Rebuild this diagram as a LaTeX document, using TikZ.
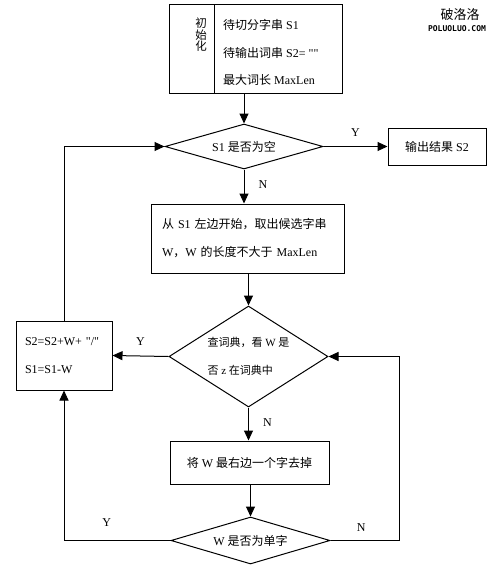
\documentclass[tikz,border=0pt]{standalone}
\usepackage{fontspec}
\setmainfont{Liberation Serif}
\newfontfamily\rawserif{Liberation Serif}[Ligatures=TeXOff]
\newfontfamily\cjk{Noto Sans CJK SC}
\newfontfamily\mono{DejaVu Sans Mono}
\usetikzlibrary{arrows.meta,shapes.geometric}
\newcommand{\zh}[1]{{\cjk #1}}
\newcommand{\dq}{{\rawserif\char"22}}
\begin{document}
\begin{tikzpicture}[x=1pt,y=-1pt,
	font=\fontsize{12}{14}\selectfont,
	box/.style={draw, line width=1pt, inner sep=0pt, align=left},
	dia/.style={draw, diamond, line width=1pt, inner sep=0pt, align=left},
	arr/.style={line width=1pt, -{Triangle[length=10pt,width=9pt]}},
	lab/.style={inner sep=0pt}]
	\useasboundingbox (0,0) rectangle (503,568);
	\node[box, minimum width=45, minimum height=89] (initL) at (191.5,48.5) {};
	\node[box, minimum width=128, minimum height=89] (initR) at (278,48.5) {};
	\node[inner sep=0pt, align=left, anchor=west] (initText) at (223,52.5) {\zh{待切分字串} S1\\[13.5pt]\zh{待输出词串} S2= \dq\dq\\[13.5pt]\zh{最大词长} MaxLen};
	\node[inner sep=0pt, align=center, font=\cjk\fontsize{11.5}{11.5}\selectfont, anchor=north] (initT) at (201,18) {初\\始\\化};
	\node[dia, aspect=3.5, minimum width=158, minimum height=45, align=center] (empty) at (244,146.5) {S1 \zh{是否为空}};
	\node[box, minimum width=98, minimum height=37, align=center] (out) at (437,146.5) {\zh{输出结果} S2};
	\node[box, minimum width=193, minimum height=69, text width=171] (take) at (247.5,238.5) {\zh{从} S1 \zh{左边开始，取出候选字串}\\[14pt]W\zh{，}W \zh{的长度不大于} MaxLen};
	\node[dia, aspect=1.6, minimum width=159, minimum height=101, font=\fontsize{11}{13}\selectfont] (look) at (248.5,356.5) {\zh{查词典，看} W \zh{是}\\[15pt]\zh{否} z \zh{在词典中}};
	\node[box, minimum width=96, minimum height=69, text width=78] (upd) at (64,355.5) {S2=S2+W+ \dq/\dq\\[14pt]S1=S1-W};
	\node[box, minimum width=159, minimum height=43, align=center] (cut) at (249.5,462.5) {\zh{将} W \zh{最右边一个字去掉}};
	\node[dia, aspect=3.5, minimum width=159, minimum height=47, align=center] (single) at (250.5,540.5) {W \zh{是否为单字}};
	\coordinate (rgt) at (399,540.5);
	\draw[arr] (initR.south -| empty.north) -- (empty.north);
	\draw[arr] (empty.east) -- (out.west) node[lab, pos=0.5, above=10pt] (yout) {Y};
	\draw[arr] (empty.south) -- (empty.south |- take.north) node[lab, pos=0.45, right=14pt] (ntake) {N};
	\draw[arr] (take.south -| look.north) -- (look.north);
	\draw[arr] (look.west) -- (upd.east) node[lab, pos=0.5, above=10pt] (yupd) {Y};
	\draw[arr] (look.south) -- (look.south |- cut.north) node[lab, pos=0.45, right=14pt] (ncut) {N};
	\draw[arr] (cut.south -| single.north) -- (single.north);
	\draw[arr] (single.west) -| (upd.south) node[lab, pos=0.3, above=14pt] (ysingle) {Y};
	\draw[arr] (single.east) -- (rgt) node[lab, pos=0.45, above=9pt] (nsingle) {N} |- (look.east);
	\draw[arr] (upd.north) |- (empty.west);
	\node[font=\cjk\fontsize{13}{13}\selectfont, inner sep=0pt] (wm) at (460,15) {破洛洛};
	\node[font=\mono\bfseries\fontsize{8}{8}\selectfont, inner sep=0pt] (wmurl) at (457,29) {POLUOLUO.COM};
\end{tikzpicture}
\end{document}
